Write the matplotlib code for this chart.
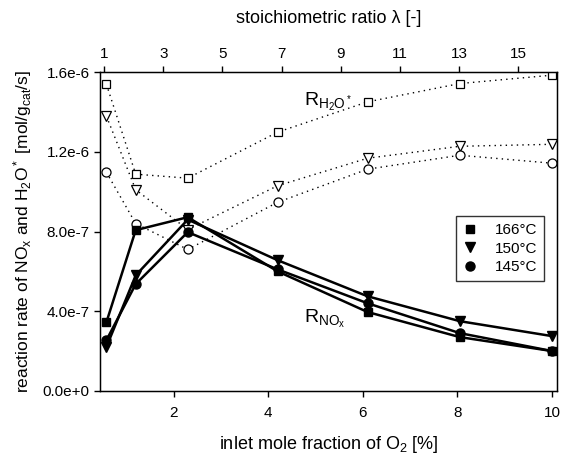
import matplotlib
matplotlib.use("Agg")
import matplotlib.pyplot as plt
from matplotlib.ticker import FixedLocator, FixedFormatter

plt.rcParams['font.family'] = ['Liberation Sans', 'DejaVu Sans']
plt.rcParams['mathtext.fontset'] = 'custom'
plt.rcParams['mathtext.rm'] = 'Liberation Sans'
plt.rcParams['mathtext.it'] = 'Liberation Sans'
plt.rcParams['mathtext.default'] = 'regular'

# inlet O2 mole fraction [%]
o2 = [0.58, 1.2, 2.3, 4.2, 6.1, 8.05, 10.0]

# NOx reaction rates [mol/g_cat/s]
nox_166 = [3.44e-7, 8.07e-7, 8.72e-7, 6.0e-7, 3.96e-7, 2.7e-7, 2.0e-7]
nox_150 = [2.2e-7, 5.8e-7, 8.6e-7, 6.56e-7, 4.75e-7, 3.5e-7, 2.75e-7]
nox_145 = [2.54e-7, 5.36e-7, 7.97e-7, 6.1e-7, 4.4e-7, 2.9e-7, 2.0e-7]

# H2O* reaction rates [mol/g_cat/s]
h2o_166 = [15.4e-7, 10.88e-7, 10.68e-7, 12.99e-7, 14.51e-7, 15.43e-7, 15.85e-7]
h2o_150 = [13.8e-7, 10.1e-7, 8.1e-7, 10.3e-7, 11.68e-7, 12.28e-7, 12.38e-7]
h2o_145 = [10.98e-7, 8.4e-7, 7.1e-7, 9.47e-7, 11.13e-7, 11.83e-7, 11.43e-7]

legend_labels = ['166°C', '150°C', '145°C']
y_ticks = [0.0, 4e-7, 8e-7, 1.2e-6, 1.6e-6]
y_tick_labels = ['0.0e+0', '4.0e-7', '8.0e-7', '1.2e-6', '1.6e-6']
x_ticks = [2, 4, 6, 8, 10]
lam_ticks = [1, 3, 5, 7, 9, 11, 13, 15]

fig = plt.figure(figsize=(5.63, 4.54), dpi=100)
ax = fig.add_axes([0.178, 0.139, 0.811, 0.702])

xmin, xmax = 0.45, 10.1
ax.set_xlim(xmin, xmax)
ax.set_ylim(0, 1.6e-6)

# dotted H2O lines with open markers
dot = dict(color='black', lw=1.0, ls=(0, (1, 3)))
ax.plot(o2, h2o_166, marker='s', ms=6, mfc='white', mec='black', mew=0.9, **dot)
ax.plot(o2, h2o_150, marker='v', ms=7, mfc='white', mec='black', mew=0.9, **dot)
ax.plot(o2, h2o_145, marker='o', ms=6.5, mfc='white', mec='black', mew=0.9, **dot)

# solid NOx lines with filled markers
sol = dict(color='black', lw=1.8, ls='-')
ax.plot(o2, nox_166, marker='s', ms=6, mfc='black', mec='black', **sol)
ax.plot(o2, nox_150, marker='v', ms=7, mfc='black', mec='black', **sol)
ax.plot(o2, nox_145, marker='o', ms=6.5, mfc='black', mec='black', **sol)

h1, = ax.plot([], [], 's', color='black', ms=6)
h2, = ax.plot([], [], 'v', color='black', ms=7)
h3, = ax.plot([], [], 'o', color='black', ms=6.5)
leg = ax.legend([h1, h2, h3], legend_labels, loc='upper left',
                bbox_to_anchor=(0.779, 0.548), borderaxespad=0,
                fontsize=11, frameon=True,
                fancybox=False, edgecolor='black', handlelength=1.0,
                handletextpad=1.1, borderpad=0.45, labelspacing=0.3)
leg.get_frame().set_linewidth(1.0)

ax.yaxis.set_major_locator(FixedLocator(y_ticks))
ax.yaxis.set_major_formatter(FixedFormatter(y_tick_labels))
ax.set_xticks(x_ticks)
ax.tick_params(direction='out', length=4, width=1, labelsize=11)
ax.tick_params(axis='x', pad=7)

ax.set_xlabel('inlet mole fraction of O$_2$ [%]', fontsize=13, labelpad=10)
ax.set_ylabel('reaction rate of NO$_x$ and H$_2$O$^*$ [mol/g$_{cat}$/s]', fontsize=12.5, labelpad=6)

for s in ax.spines.values():
    s.set_linewidth(1.0)

# top lambda axis (linear mapping of O2 fraction)
lam_at = lambda x: 1 + 1.601 * (x - 0.535)
ax2 = ax.twiny()
ax2.set_xlim(lam_at(xmin), lam_at(xmax))
ax2.set_xticks(lam_ticks)
ax2.tick_params(direction='out', length=4, width=1, labelsize=11, pad=4)
ax2.set_xlabel('stoichiometric ratio λ [-]', fontsize=13, labelpad=17)

ax.text(4.75, 1.43e-6, 'R$_{H_2O^*}$', fontsize=14)
ax.text(4.75, 3.4e-7, 'R$_{NO_x}$', fontsize=14)

fig.savefig('out.png', dpi=100)
